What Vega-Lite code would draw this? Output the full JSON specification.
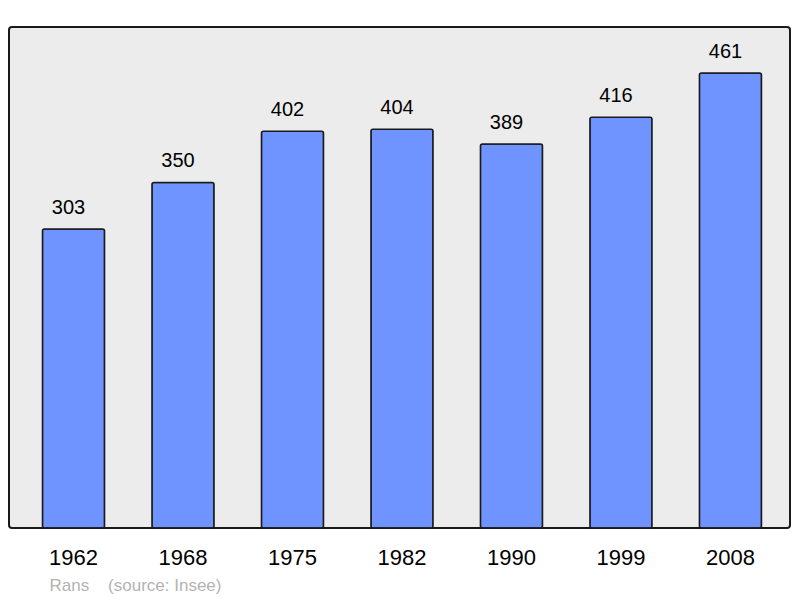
{
  "$schema": "https://vega.github.io/schema/vega-lite/v6.json",
  "width": 781,
  "height": 501,
  "autosize": {"type": "none"},
  "padding": {"left": 9, "top": 27, "right": 10, "bottom": 70},
  "background": "white",
  "config": {
    "view": {"fill": "#ececec", "stroke": "#1a1a1a", "strokeWidth": 2, "cornerRadius": 3},
    "font": "Liberation Sans"
  },
  "data": {
    "values": [
      {"year": "1962", "pop": 303},
      {"year": "1968", "pop": 350},
      {"year": "1975", "pop": 402},
      {"year": "1982", "pop": 404},
      {"year": "1990", "pop": 389},
      {"year": "1999", "pop": 416},
      {"year": "2008", "pop": 461}
    ]
  },
  "encoding": {
    "x": {
      "field": "year",
      "type": "ordinal",
      "scale": {"paddingInner": 0.433, "paddingOuter": 0.283, "align": 0.54},
      "axis": {
        "title": "Rans \u00a0\u00a0\u00a0(source: Insee)",
        "titleFontSize": 17,
        "titleFontWeight": "normal",
        "titleColor": "#b3b3b3",
        "titleAnchor": "start",
        "titleAlign": "left",
        "titleX": 40,
        "titleY": 62,
        "titleBaseline": "alphabetic",
        "labelAngle": 0,
        "labelFontSize": 22,
        "labelColor": "#000000",
        "labelBaseline": "alphabetic",
        "labelPadding": 36,
        "ticks": false,
        "tickSize": 0,
        "domain": false,
        "grid": false
      }
    },
    "y": {
      "field": "pop",
      "type": "quantitative",
      "scale": {"domain": [0, 507.5], "nice": false},
      "axis": null
    }
  },
  "layer": [
    {
      "mark": {"type": "bar", "fill": "#7094ff", "stroke": "#1a1a1a", "strokeWidth": 1.5, "cornerRadius": 2}
    },
    {
      "mark": {"type": "text", "baseline": "alphabetic", "dy": -15, "dx": -5, "fontSize": 20, "color": "#000000"},
      "encoding": {"text": {"field": "pop", "type": "quantitative"}}
    }
  ]
}
